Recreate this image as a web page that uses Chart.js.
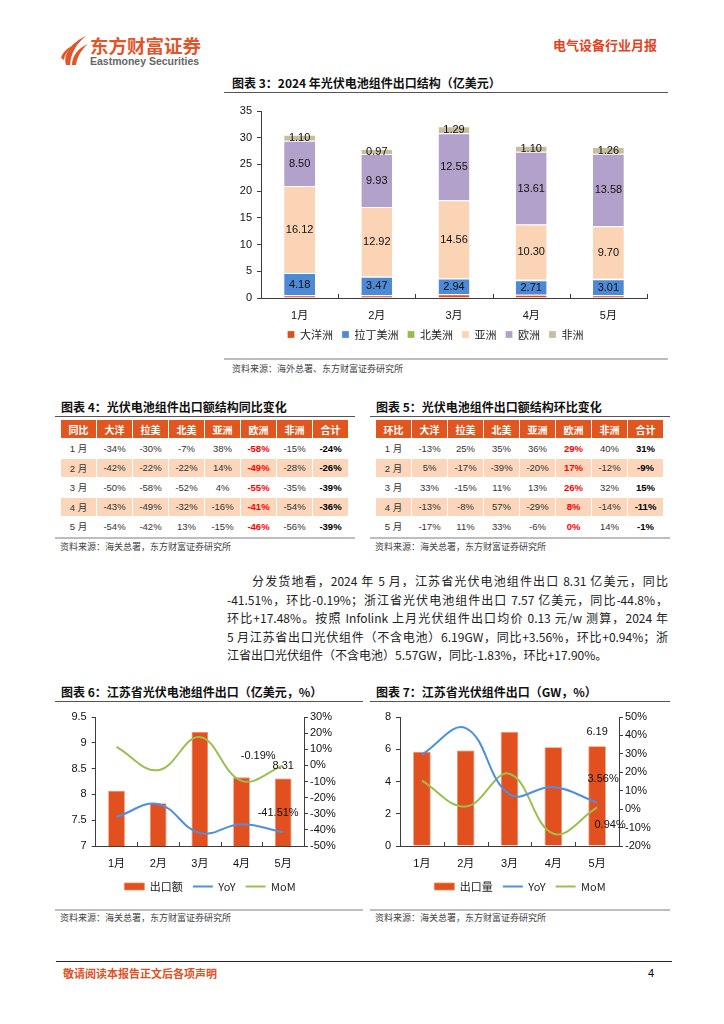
<!DOCTYPE html>
<html lang="zh-CN">
<head>
<meta charset="utf-8">
<title>电气设备行业月报</title>
<script src="https://cdn.jsdelivr.net/npm/chart.js@4.4.1/dist/chart.umd.min.js"></script>
<style>
html, body { margin: 0; padding: 0; background: #fff; }
body { width: 724px; height: 1024px; position: relative; overflow: hidden; font-family: "Noto Sans CJK SC", sans-serif; color: #222; }
.abs { position: absolute; }
.box { position: absolute; }
.title { position: absolute; font-size: 12px; font-weight: bold; color: #111; white-space: nowrap; line-height: 14px; }
.rule { position: absolute; height: 0; border-top: 1.2px solid #555; }
.rule2 { position: absolute; height: 0; border-top: 2px solid #bdbdbd; }
.src { position: absolute; font-size: 9px; color: #444; line-height: 11px; white-space: nowrap; }
table.t { position: absolute; border-collapse: separate; border-spacing: 1px 1px; font-family: "Liberation Sans", "Noto Sans CJK SC", sans-serif; font-size: 9.5px; color: #333; }
table.t td, table.t th { width: 35px; padding: 0; text-align: center; }
table.t th { height: 18px; background: #E1551F; color: #fff; font-family: "Noto Sans CJK SC", sans-serif; font-size: 10px; font-weight: bold; }
table.t td { height: 18.5px; }
table.t tr.band td { background: #FBD6BA; }
table.t td.eu { color: #ff0000; font-weight: bold; }
table.t td.tot { color: #000; font-weight: bold; }
.para { position: absolute; left: 227px; width: 441px; font-size: 12px; line-height: 18.6px; color: #222; white-space: nowrap; }
.para .ln { text-align: justify; text-align-last: justify; }
.para .ln.last { text-align-last: left; }
</style>
</head>
<body>

<!-- header -->
<svg class="abs" style="left:61px;top:35px" width="28" height="31" viewBox="0 0 28 31">
  <path d="M5 30 C 2 19, 10 8, 25 1 C 15 9, 10 18, 9 30 Z" fill="#E2542A"/>
  <path d="M11 30 C 11 21, 17 13, 27 9 C 20 15, 16 22, 15 30 Z" fill="#E2542A"/>
  <path d="M0 23 C 2 17, 6 13, 13 10 C 7 15, 4 19, 3 25 Z" fill="#E2542A"/>
</svg>
<div class="abs" style="left:90px;top:34px;font-size:18.5px;font-weight:bold;color:#E2542A;line-height:22px;white-space:nowrap">东方财富证券</div>
<div class="abs" style="left:90px;top:55px;font-family:'Liberation Sans',sans-serif;font-size:10.5px;font-weight:bold;color:#666;line-height:12px;white-space:nowrap">Eastmoney Securities</div>
<div class="abs" style="left:553px;top:37px;font-size:13px;font-weight:bold;color:#E4431F;line-height:16px;white-space:nowrap">电气设备行业月报</div>

<!-- figure 3 -->
<div class="title" style="left:232px;top:76px">图表 3：2024 年光伏电池组件出口结构（亿美元）</div>
<div class="rule" style="left:224px;top:92px;width:444px"></div>
<div class="box" style="left:224px;top:95px;width:444px;height:255px"><canvas id="c3"></canvas></div>
<div class="rule2" style="left:224px;top:358px;width:444px"></div>
<div class="src" style="left:232px;top:363px">资料来源：海外总署、东方财富证券研究所</div>

<!-- tables -->
<div class="title" style="left:61px;top:400px">图表 4：光伏电池组件出口额结构同比变化</div>
<div class="rule" style="left:55px;top:416px;width:300px"></div>
<table class="t" id="t4" style="left:60px;top:419px"></table>
<div class="rule2" style="left:55px;top:537px;width:300px"></div>
<div class="src" style="left:60px;top:541px">资料来源：海关总署，东方财富证券研究所</div>

<div class="title" style="left:376px;top:400px">图表 5：光伏电池组件出口额结构环比变化</div>
<div class="rule" style="left:370px;top:416px;width:300px"></div>
<table class="t" id="t5" style="left:375px;top:419px"></table>
<div class="rule2" style="left:370px;top:537px;width:300px"></div>
<div class="src" style="left:375px;top:541px">资料来源：海关总署，东方财富证券研究所</div>

<!-- paragraph -->
<div class="para" style="top:572px">
  <div class="ln" style="padding-left:25px">分发货地看，2024 年 5 月，江苏省光伏电池组件出口 8.31 亿美元，同比</div>
  <div class="ln">-41.51%，环比-0.19%；浙江省光伏电池组件出口 7.57 亿美元，同比-44.8%，</div>
  <div class="ln">环比+17.48%。按照 Infolink 上月光伏组件出口均价 0.13 元/w 测算，2024 年</div>
  <div class="ln">5 月江苏省出口光伏组件（不含电池）6.19GW，同比+3.56%，环比+0.94%；浙</div>
  <div class="ln last">江省出口光伏组件（不含电池）5.57GW，同比-1.83%，环比+17.90%。</div>
</div>

<!-- figure 6 / 7 -->
<div class="title" style="left:61px;top:685px">图表 6：江苏省光伏电池组件出口（亿美元，%）</div>
<div class="rule" style="left:55px;top:701px;width:308px"></div>
<div class="box" style="left:55px;top:705px;width:310px;height:197px"><canvas id="c6"></canvas></div>
<div class="rule2" style="left:55px;top:909px;width:308px"></div>
<div class="src" style="left:60px;top:912px">资料来源：海关总署，东方财富证券研究所</div>

<div class="title" style="left:376px;top:685px">图表 7：江苏省光伏组件出口（GW，%）</div>
<div class="rule" style="left:370px;top:701px;width:300px"></div>
<div class="box" style="left:370px;top:705px;width:300px;height:197px"><canvas id="c7"></canvas></div>
<div class="rule2" style="left:370px;top:909px;width:300px"></div>
<div class="src" style="left:375px;top:912px">资料来源：海关总署，东方财富证券研究所</div>

<!-- footer -->
<div class="abs" style="left:56px;top:961px;width:616px;height:0;border-top:1.2px solid #222"></div>
<div class="abs" style="left:63px;top:965px;font-size:11px;font-weight:bold;color:#E2501F;line-height:16px;white-space:nowrap">敬请阅读本报告正文后各项声明</div>
<div class="abs" style="left:648px;top:965px;font-family:'Liberation Sans',sans-serif;font-size:11px;color:#000;line-height:16px">4</div>

<script>
// ---- data ----
var months = ['1月', '2月', '3月', '4月', '5月'];

// 图表3 出口结构（亿美元）
var regionNames = ['大洋洲', '拉丁美洲', '北美洲', '亚洲', '欧洲', '非洲'];
var oceania = [0.50, 0.53, 0.70, 0.61, 0.51];
var latinAmerica = [4.18, 3.47, 2.94, 2.71, 3.01];
var northAmerica = [0.15, 0.09, 0.10, 0.16, 0.21];
var asia = [16.12, 12.92, 14.56, 10.30, 9.70];
var europe = [8.50, 9.93, 12.55, 13.61, 13.58];
var africa = [1.10, 0.97, 1.29, 1.10, 1.26];
var structTicks = [0, 5, 10, 15, 20, 25, 30, 35];

// 图表4/5 表格
var yoyHeader = ['同比', '大洋', '拉美', '北美', '亚洲', '欧洲', '非洲', '合计'];
var momHeader = ['环比', '大洋', '拉美', '北美', '亚洲', '欧洲', '非洲', '合计'];
var rowMonths = ['1 月', '2 月', '3 月', '4 月', '5 月'];
var yoyRows = [
    ['-34%', '-30%', '-7%', '38%', '-58%', '-15%', '-24%'],
    ['-42%', '-22%', '-22%', '14%', '-49%', '-28%', '-26%'],
    ['-50%', '-58%', '-52%', '4%', '-55%', '-35%', '-39%'],
    ['-43%', '-49%', '-32%', '-16%', '-41%', '-54%', '-36%'],
    ['-54%', '-42%', '13%', '-15%', '-46%', '-56%', '-39%']
];
var momRows = [
    ['-13%', '25%', '35%', '36%', '29%', '40%', '31%'],
    ['5%', '-17%', '-39%', '-20%', '17%', '-12%', '-9%'],
    ['33%', '-15%', '11%', '13%', '26%', '32%', '15%'],
    ['-13%', '-8%', '57%', '-29%', '8%', '-14%', '-11%'],
    ['-17%', '11%', '33%', '-6%', '0%', '14%', '-1%']
];

// 图表6 江苏省光伏电池组件出口（亿美元，%）
var jsValue = [8.07, 7.83, 9.21, 8.33, 8.31];
var jsValueYoy = [-32.0, -24.0, -42.0, -36.5, -41.51];
var jsValueMom = [11.4, -3.0, 17.6, -9.6, -0.19];
var jsValueTicks = [7, 7.5, 8, 8.5, 9, 9.5];
var jsValuePctTicks = [-50, -40, -30, -20, -10, 0, 10, 20, 30];

// 图表7 江苏省光伏组件出口（GW，%）
var jsVolume = [5.85, 5.93, 7.07, 6.13, 6.19];
var jsVolumeYoy = [29.6, 44.0, 8.0, 12.0, 3.56];
var jsVolumeMom = [15.5, 1.4, 19.2, -13.3, 0.94];
var jsVolumeTicks = [0, 2, 4, 6, 8];
var jsVolumePctTicks = [-20, -10, 0, 10, 20, 30, 40, 50];

// ---- tables ----
function buildTable(id, header, rows) {
    var table = document.getElementById(id);
    var html = '<tr>' + header.map(function (h) { return '<th>' + h + '</th>'; }).join('') + '</tr>';
    for (var i = 0; i < rows.length; i++) {
        html += '<tr' + (i % 2 === 1 ? ' class="band"' : '') + '><td>' + rowMonths[i] + '</td>';
        for (var j = 0; j < rows[i].length; j++) {
            var cls = j === 4 ? ' class="eu"' : (j === 6 ? ' class="tot"' : '');
            html += '<td' + cls + '>' + rows[i][j] + '</td>';
        }
        html += '</tr>';
    }
    table.innerHTML = html;
}
buildTable('t4', yoyHeader, yoyRows);
buildTable('t5', momHeader, momRows);

// ---- charts ----
var axisColor = '#3c3c3c';
var numFont = '"Liberation Sans", "Noto Sans CJK SC", sans-serif';
Chart.defaults.font.family = numFont;
Chart.defaults.font.size = 11;
Chart.defaults.color = '#111';
Chart.defaults.animation = false;

// small upward ticks on the category axis, at the category boundaries
var innerTicks = {
    id: 'innerTicks',
    afterDraw: function (chart) {
        var x = chart.scales.x, ctx = chart.ctx;
        var n = chart.data.labels.length;
        var step = (x.right - x.left) / n;
        var y0 = chart.chartArea.bottom;
        ctx.save();
        ctx.strokeStyle = axisColor;
        ctx.lineWidth = 1;
        ctx.beginPath();
        for (var i = 1; i <= n; i++) {
            var px = Math.round(x.left + step * i) + 0.5;
            ctx.moveTo(px, y0);
            ctx.lineTo(px, y0 - 4);
        }
        ctx.stroke();
        ctx.restore();
    }
};

// values inside the stacked segments
var segmentLabels = {
    id: 'segmentLabels',
    afterDatasetsDraw: function (chart) {
        var ctx = chart.ctx;
        var show = [1, 3, 4, 5];
        ctx.save();
        ctx.font = '11px ' + numFont;
        ctx.fillStyle = '#111';
        ctx.textAlign = 'center';
        ctx.textBaseline = 'middle';
        show.forEach(function (di) {
            var meta = chart.getDatasetMeta(di);
            meta.data.forEach(function (bar, i) {
                var v = chart.data.datasets[di].data[i];
                ctx.fillText(v.toFixed(2), bar.x, (bar.y + bar.base) / 2 + 0.5);
            });
        });
        ctx.restore();
    }
};

// labels on the last point of each series
function endLabels(specs) {
    return {
        id: 'endLabels',
        afterDatasetsDraw: function (chart) {
            var ctx = chart.ctx;
            ctx.save();
            ctx.font = '11px ' + numFont;
            ctx.fillStyle = '#111';
            ctx.textAlign = 'center';
            ctx.textBaseline = 'middle';
            specs.forEach(function (s) {
                var meta = chart.getDatasetMeta(s.ds);
                var last = meta.data.length - 1;
                var el = meta.data[last];
                var v = chart.data.datasets[s.ds].data[last];
                ctx.fillText(v.toFixed(2) + (s.pct ? '%' : ''), el.x + s.dx, el.y + s.dy);
            });
            ctx.restore();
        }
    };
}

function legendWithStyles(chart) {
    var items = Chart.defaults.plugins.legend.labels.generateLabels(chart);
    items.forEach(function (it) {
        var ds = chart.data.datasets[it.datasetIndex];
        it.pointStyle = ds.type === 'line' ? 'line' : 'rect';
        if (ds.type === 'line') { it.lineWidth = 2; it.strokeStyle = ds.borderColor; }
    });
    return items;
}

// 图表3
var regionColors = ['#E04E1C', '#4E89D6', '#92BE4E', '#FAD4B5', '#B2A1CA', '#C7BE9B'];
var regionData = [oceania, latinAmerica, northAmerica, asia, europe, africa];
new Chart(document.getElementById('c3'), {
    type: 'bar',
    data: {
        labels: months,
        datasets: regionNames.map(function (name, i) {
            return {
                label: name,
                data: regionData[i],
                backgroundColor: regionColors[i],
                borderColor: '#ffffff',
                borderWidth: { top: 1, left: 0, right: 0, bottom: 0 },
                borderSkipped: false,
                categoryPercentage: 1,
                barPercentage: 0.4
            };
        })
    },
    options: {
        responsive: true,
        maintainAspectRatio: false,
        layout: { padding: { top: 16, right: 21, left: 0, bottom: 0 } },
        scales: {
            x: {
                stacked: true,
                grid: { display: false },
                border: { display: true, color: axisColor, width: 1 },
                ticks: { padding: 3.5, color: '#111', font: { family: numFont, size: 11 } },
                afterFit: function (s) { s.height = 22; }
            },
            y: {
                stacked: true,
                min: structTicks[0],
                max: structTicks[structTicks.length - 1],
                ticks: { stepSize: 5, padding: 5, color: '#111', autoSkip: false },
                grid: { display: true, drawOnChartArea: false, drawTicks: true, tickLength: 4, color: axisColor },
                border: { display: true, color: axisColor, width: 1 },
                afterFit: function (s) { s.width = 37; }
            }
        },
        plugins: {
            legend: {
                position: 'bottom',
                labels: {
                    boxWidth: 7, boxHeight: 7, padding: 9, color: '#222',
                    font: { family: '"Noto Sans CJK SC", sans-serif', size: 11 }
                }
            },
            tooltip: { enabled: false }
        }
    },
    plugins: [segmentLabels, innerTicks]
});

// 图表6 / 图表7
function comboChart(id, barLabel, bars, yoy, mom, leftTicks, pctTicks, leftW, rightW, labelSpecs) {
    return new Chart(document.getElementById(id), {
        type: 'bar',
        data: {
            labels: months,
            datasets: [
                { type: 'bar', label: barLabel, data: bars, yAxisID: 'y', backgroundColor: '#E2501F',
                  borderColor: '#F08A62', borderWidth: 0.8, categoryPercentage: 1, barPercentage: 0.4, order: 2 },
                { type: 'line', label: 'YoY', data: yoy, yAxisID: 'y1', borderColor: '#4F8FDF', borderWidth: 2,
                  pointRadius: 0, tension: 0.4, fill: false, order: 1 },
                { type: 'line', label: 'MoM', data: mom, yAxisID: 'y1', borderColor: '#99C04F', borderWidth: 2,
                  pointRadius: 0, tension: 0.4, fill: false, order: 1 }
            ]
        },
        options: {
            responsive: true,
            maintainAspectRatio: false,
            layout: { padding: { top: 12, right: 0, left: 0, bottom: 0 } },
            scales: {
                x: {
                    grid: { display: false },
                    border: { display: true, color: axisColor, width: 1 },
                    ticks: { padding: 3.5, color: '#111', font: { family: numFont, size: 11 } },
                    afterFit: function (s) { s.height = 25; }
                },
                y: {
                    position: 'left',
                    min: leftTicks[0],
                    max: leftTicks[leftTicks.length - 1],
                    ticks: { stepSize: leftTicks[1] - leftTicks[0], padding: 5, color: '#111', autoSkip: false,
                             callback: function (v) { return String(v); } },
                    grid: { display: true, drawOnChartArea: false, drawTicks: true, tickLength: 4, color: axisColor },
                    border: { display: true, color: axisColor, width: 1 },
                    afterFit: function (s) { s.width = leftW; }
                },
                y1: {
                    position: 'right',
                    min: pctTicks[0],
                    max: pctTicks[pctTicks.length - 1],
                    ticks: { stepSize: 10, padding: 2, color: '#111', autoSkip: false,
                             callback: function (v) { return v + '%'; } },
                    grid: { display: true, drawOnChartArea: false, drawTicks: true, tickLength: 4, color: axisColor },
                    border: { display: true, color: axisColor, width: 1 },
                    afterFit: function (s) { s.width = rightW; }
                }
            },
            plugins: {
                legend: {
                    position: 'bottom',
                    labels: {
                        usePointStyle: true, pointStyleWidth: 20, boxHeight: 7, padding: 10, color: '#222',
                        font: { family: '"Noto Sans CJK SC", sans-serif', size: 11 },
                        generateLabels: legendWithStyles,
                        sort: function (a, b) { return a.datasetIndex - b.datasetIndex; }
                    }
                },
                tooltip: { enabled: false }
            }
        },
        plugins: [innerTicks, endLabels(labelSpecs)]
    });
}

comboChart('c6', '出口额', jsValue, jsValueYoy, jsValueMom, jsValueTicks, jsValuePctTicks, 40.7, 61, [
    { ds: 0, dx: 0, dy: -12, pct: false },
    { ds: 2, dx: -25, dy: -10, pct: true },
    { ds: 1, dx: -5, dy: -19, pct: true }
]);
comboChart('c7', '出口量', jsVolume, jsVolumeYoy, jsVolumeMom, jsVolumeTicks, jsVolumePctTicks, 30, 51, [
    { ds: 0, dx: 0, dy: -14, pct: false },
    { ds: 1, dx: 6, dy: -24, pct: true },
    { ds: 2, dx: 13, dy: 18, pct: true }
]);
</script>
</body>
</html>
